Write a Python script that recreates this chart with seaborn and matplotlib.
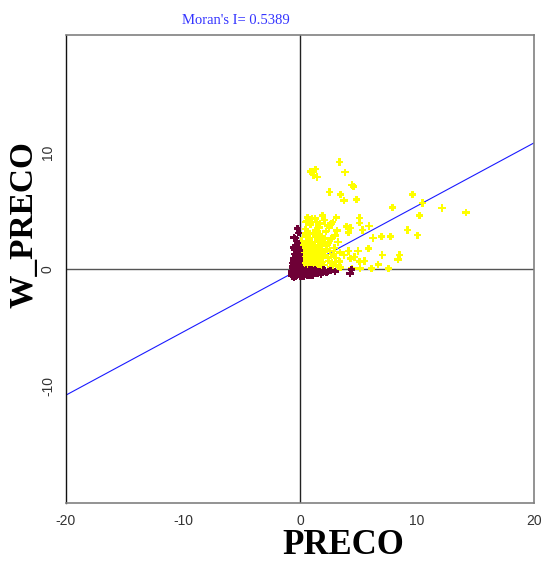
import numpy as np
import pandas as pd
import matplotlib
matplotlib.use("Agg")
import matplotlib.pyplot as plt
import seaborn as sns

# ---------------- data ----------------
moran_i = 0.5389
title_text = "Moran's I= 0.5389"
x_label = "PRECO"
y_label = "W_PRECO"
x_ticks = [-20, -10, 0, 10, 20]
y_ticks = [-10, 0, 10]

# High-High (yellow) points
hh_x = [3.36, 0.91, 1.31, 1.14, 1.45, 3.85, 4.44, 4.56, 2.51, 3.45, 3.76, 4.81, 9.6, 10.46, 12.14, 14.2,
        7.92, 10.23, 9.17, 10.06, 6.24, 6.95, 7.72, 5.9, 5.33, 5.07, 5.07, 4.33, 3.99, 4.16, 1.94, 0.66,
        1.03, 1.42, 0.49, 7.03, 8.52, 8.38, 6.69, 7.58, 6.12, 5.13, 4.44, 5.5, 5.07, 4.67, 4.16, 4.96,
        5.84, 4.33, 3.76, 3.48, 3.36,
        0.12, 0.25, 0.33, 0.41, 0.18, 0.56, 0.62, 0.75, 0.88, 0.95, 0.22, 0.37, 0.48, 0.69, 0.81, 0.14,
        0.29, 0.52, 0.66, 0.91, 0.08, 0.44, 0.58, 0.73, 0.97, 0.2, 0.35, 0.6, 0.85, 0.5, 0.3, 0.78, 0.4,
        0.65, 0.15, 0.9, 0.55, 0.27, 0.7, 0.46,
        1.05, 1.12, 1.2, 1.28, 1.35, 1.42, 1.5, 1.58, 1.65, 1.72, 1.8, 1.88, 1.95, 1.1, 1.25, 1.4, 1.55,
        1.7, 1.85, 1.15, 1.3, 1.45, 1.6, 1.75, 1.9, 1.02, 1.33, 1.62, 1.93, 1.48, 1.22, 1.78, 1.38, 1.67,
        2.05, 2.15, 2.3, 2.42, 2.55, 2.68, 2.8, 2.95, 3.1, 3.25, 3.4, 2.2, 2.5, 2.75, 3.0, 3.3, 2.1, 2.38,
        2.62, 2.88, 3.15, 2.45, 2.7, 3.05, 2.25,
        0.6, 0.9, 1.3, 1.7, 2.1, 2.4, 2.8, 3.1,
        0.05, 0.1, 0.15, 0.2, 0.3, 0.45, 0.6, 0.8, 1.0, 1.3]
hh_y = [9.16, 8.35, 8.53, 8.04, 7.87, 8.27, 7.18, 7.07, 6.58, 6.38, 5.87, 5.95, 6.35, 5.64, 5.21, 4.83,
        5.24, 4.58, 3.32, 2.89, 2.66, 2.77, 2.77, 3.69, 3.32, 4.38, 3.95, 3.52, 3.63, 3.12, 4.58, 4.41,
        4.26, 4.0, 4.0, 1.2, 1.2, 0.8, 0.4, 0.05, 0.05, 0.05, 0.05, 0.69, 0.63, 1.03, 1.55, 1.55,
        1.77, 0.91, 1.2, 0.12, 0.63,
        0.15, 0.32, 0.08, 0.55, 1.1, 0.41, 0.9, 0.22, 0.63, 1.35, 1.7, 2.1, 1.45, 1.9, 2.6, 2.4,
        0.75, 2.85, 3.2, 0.38, 0.95, 3.1, 0.18, 1.25, 2.2, 0.5, 1.55, 2.4, 1.8, 0.28, 0.12, 3.05, 0.68,
        1.05, 1.95, 0.58, 2.75, 1.2, 0.45, 3.4,
        0.22, 1.05, 0.48, 2.3, 0.85, 1.6, 0.12, 2.05, 0.7, 1.35, 0.3, 2.6, 1.0, 3.1, 1.85, 2.9, 0.55,
        1.15, 1.95, 0.18, 3.3, 0.38, 2.45, 0.95, 1.6, 1.5, 2.75, 3.55, 0.6, 1.25, 0.9, 2.2, 0.08, 3.0,
        0.35, 1.2, 2.05, 0.7, 1.55, 2.6, 0.25, 1.8, 0.95, 2.3, 1.4, 3.2, 3.5, 0.5, 2.85, 0.15, 2.6, 1.0,
        0.12, 1.25, 3.3, 2.2, 3.85, 0.6, 1.7,
        4.1, 3.8, 4.3, 3.9, 4.2, 3.7, 4.0, 4.4,
        0.05, 0.1, 0.2, 0.08, 0.15, 0.05, 0.1, 0.06, 0.12, 0.04]

# Other quadrants (maroon) points
ot_x = [-0.23, -0.51, -0.3, -0.57, -0.43, -0.12, -0.2,
        -0.65, -0.55, -0.45, -0.35, -0.25, -0.15, -0.05, -0.6, -0.5, -0.4, -0.3, -0.2, -0.1, -0.7,
        -0.62, -0.48, -0.38, -0.28, -0.18, -0.08, -0.58, -0.42, -0.32, -0.22, -0.12, -0.02, -0.68,
        -0.52, -0.36, -0.26, -0.16, -0.06, -0.44, -0.34, -0.24, -0.14, -0.54, -0.64, -0.3, -0.2, -0.1,
        -0.4, -0.5, -0.75, -0.35, -0.25, -0.15,
        0.05, 0.15, 0.25, 0.35, 0.45, 0.55, 0.65, 0.75, 0.85, 0.95, 1.05, 1.15, 1.25, 1.35, 1.5, 1.65,
        1.8, 1.95, 2.1, 2.25, 2.4, 0.1, 0.3, 0.5, 0.7, 0.9, 1.1, 1.3, 1.55, 1.75, 2.0, 0.2, 0.4, 0.6,
        0.8, 1.0, 1.2, 3.0, 4.27, 4.4, 2.6]
ot_y = [3.46, 2.69, 2.4, 1.83, 2.63, 3.1, 2.2,
        0.1, 0.4, 0.8, 1.2, 1.5, 1.75, 0.3, -0.2, 0.6, 1.0, 1.4, 0.2, 0.9, -0.4, 0.25, -0.5, 0.55,
        -0.1, 1.1, 1.6, 0.75, 1.3, -0.3, 0.0, 0.5, 1.25, -0.6, -0.05, 0.15, 0.85, -0.45, 0.7, 1.65,
        -0.65, 0.35, 1.9, 0.95, 0.5, 2.0, 1.0, -0.2, -0.35, -0.7, -0.2, 0.65, -0.55, 0.05,
        -0.6, -0.3, -0.5, -0.15, -0.45, -0.25, -0.55, -0.1, -0.35, -0.5, -0.2, -0.4, -0.3, -0.15,
        -0.35, -0.2, -0.45, -0.25, -0.15, -0.3, -0.2, -0.4, -0.65, -0.1, -0.3, -0.2, -0.55, -0.1,
        -0.25, -0.3, -0.1, -0.05, -0.2, -0.4, -0.55, -0.08, -0.15, -0.2, -0.4, -0.03, -0.12]

df = pd.DataFrame({
    "x": hh_x + ot_x,
    "y": hh_y + ot_y,
    "grp": ["HH"] * len(hh_x) + ["other"] * len(ot_x),
})

# ---------------- plot ----------------
sns.set_theme(style="white")
plt.rcParams["font.family"] = ["Liberation Serif", "DejaVu Serif"]

fig = plt.figure(figsize=(5.45, 5.63), dpi=100)
ax = fig.add_axes([66 / 545, 60 / 563, 468 / 545, 468 / 563])

gray = "#808080"
ax.axvline(0, color="#222222", lw=1.0, zorder=1)
ax.axhline(0, color="#555555", lw=1.0, zorder=1)
ax.axline((0, 0), slope=moran_i, color="#1a1aff", lw=0.8, zorder=2)

sns.scatterplot(data=df, x="x", y="y", hue="grp",
                palette={"HH": "#FFFF00", "other": "#6E0036"},
                marker="P", s=28, linewidth=0, legend=False, ax=ax, zorder=3)

ax.set_xlim(-20, 20)
ax.set_ylim(-20, 20)
ax.set_xticks(x_ticks)
ax.set_yticks(y_ticks)
tick_font = ["Liberation Sans", "DejaVu Sans"]
ax.set_xticklabels([str(t) for t in x_ticks], fontsize=10, color="#333333", family=tick_font)
ax.set_yticklabels([str(t) for t in y_ticks], fontsize=10, color="#333333", family=tick_font,
                   rotation=90, va="center")
ax.tick_params(axis="x", direction="out", length=5, width=1, color=gray, pad=3)
ax.tick_params(axis="y", direction="out", length=6, width=1, color=gray, pad=2)

for side in ["top", "right", "bottom"]:
    ax.spines[side].set_color(gray)
    ax.spines[side].set_linewidth(1.2)
ax.spines["left"].set_color("#111111")
ax.spines["left"].set_linewidth(1.0)

ax.set_xlabel(x_label, fontsize=25, fontweight="bold", color="black")
ax.xaxis.set_label_coords(0.593, -0.055)
ax.set_ylabel(y_label, fontsize=24, fontweight="bold", color="black")
ax.yaxis.set_label_coords(-0.056, 0.594)

fig.text(236 / 545, 1 - 20 / 563, title_text, color="#3333ff", fontsize=10.5,
         ha="center", va="center")

fig.savefig("out.png", dpi=100)
